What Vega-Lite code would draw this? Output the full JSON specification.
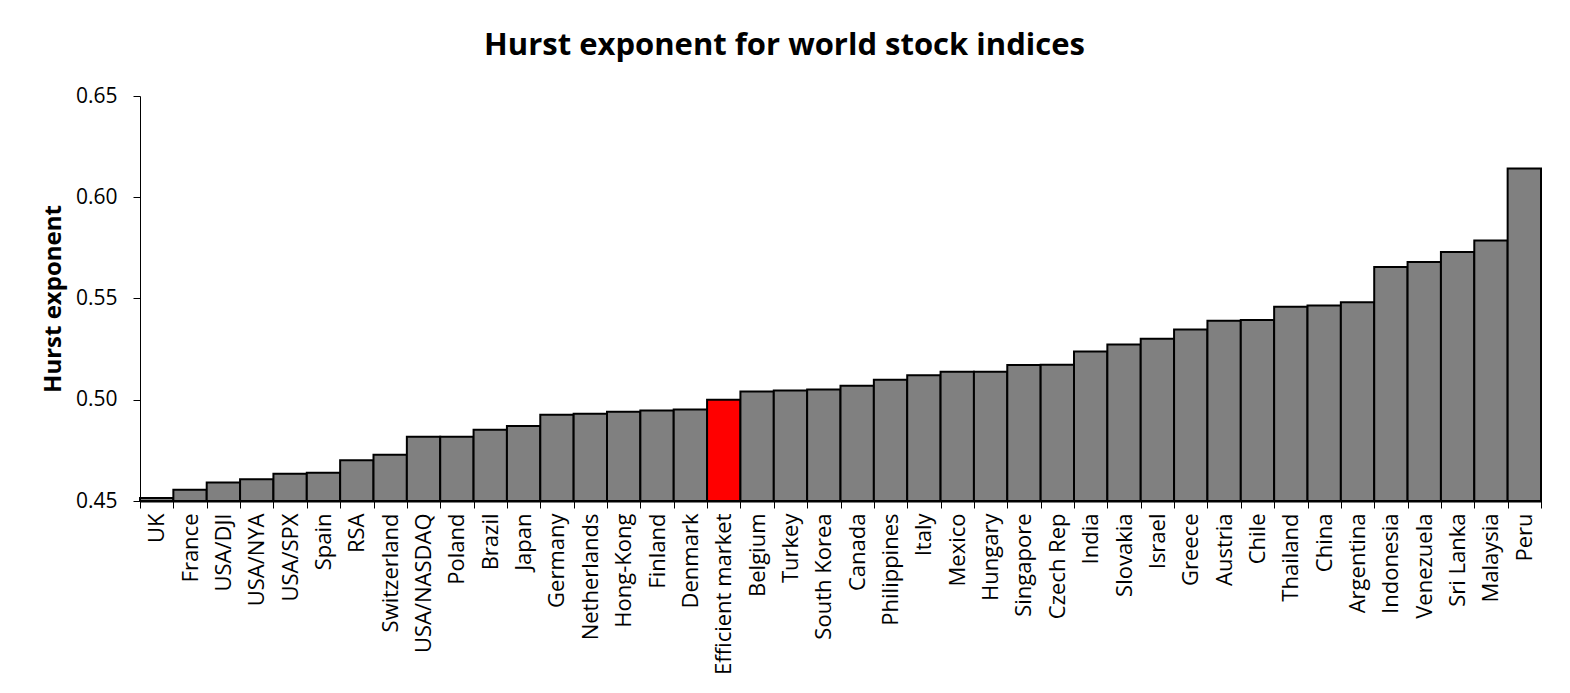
{
  "$schema": "https://vega.github.io/schema/vega-lite/v6.json",
  "autosize": "none",
  "width": 1401,
  "height": 405,
  "padding": {"left": 140, "top": 96, "right": 29, "bottom": 192},
  "background": "white",
  "title": {
    "text": "Hurst exponent for world stock indices",
    "font": "Open Sans",
    "fontSize": 31,
    "fontWeight": "bold",
    "color": "black",
    "anchor": "middle",
    "dx": -56,
    "offset": 23
  },
  "data": {
    "values": [
      {"index": "UK", "h": 0.4515, "type": "market"},
      {"index": "France", "h": 0.4556, "type": "market"},
      {"index": "USA/DJI", "h": 0.4591, "type": "market"},
      {"index": "USA/NYA", "h": 0.4607, "type": "market"},
      {"index": "USA/SPX", "h": 0.4635, "type": "market"},
      {"index": "Spain", "h": 0.4640, "type": "market"},
      {"index": "RSA", "h": 0.4701, "type": "market"},
      {"index": "Switzerland", "h": 0.4729, "type": "market"},
      {"index": "USA/NASDAQ", "h": 0.4817, "type": "market"},
      {"index": "Poland", "h": 0.4817, "type": "market"},
      {"index": "Brazil", "h": 0.4852, "type": "market"},
      {"index": "Japan", "h": 0.4870, "type": "market"},
      {"index": "Germany", "h": 0.4926, "type": "market"},
      {"index": "Netherlands", "h": 0.4931, "type": "market"},
      {"index": "Hong-Kong", "h": 0.4941, "type": "market"},
      {"index": "Finland", "h": 0.4947, "type": "market"},
      {"index": "Denmark", "h": 0.4952, "type": "market"},
      {"index": "Efficient market", "h": 0.5000, "type": "efficient"},
      {"index": "Belgium", "h": 0.5041, "type": "market"},
      {"index": "Turkey", "h": 0.5046, "type": "market"},
      {"index": "South Korea", "h": 0.5051, "type": "market"},
      {"index": "Canada", "h": 0.5069, "type": "market"},
      {"index": "Philippines", "h": 0.5099, "type": "market"},
      {"index": "Italy", "h": 0.5121, "type": "market"},
      {"index": "Mexico", "h": 0.5138, "type": "market"},
      {"index": "Hungary", "h": 0.5138, "type": "market"},
      {"index": "Singapore", "h": 0.5172, "type": "market"},
      {"index": "Czech Rep", "h": 0.5173, "type": "market"},
      {"index": "India", "h": 0.5238, "type": "market"},
      {"index": "Slovakia", "h": 0.5273, "type": "market"},
      {"index": "Israel", "h": 0.5301, "type": "market"},
      {"index": "Greece", "h": 0.5347, "type": "market"},
      {"index": "Austria", "h": 0.5390, "type": "market"},
      {"index": "Chile", "h": 0.5394, "type": "market"},
      {"index": "Thailand", "h": 0.5459, "type": "market"},
      {"index": "China", "h": 0.5465, "type": "market"},
      {"index": "Argentina", "h": 0.5481, "type": "market"},
      {"index": "Indonesia", "h": 0.5656, "type": "market"},
      {"index": "Venezuela", "h": 0.5680, "type": "market"},
      {"index": "Sri Lanka", "h": 0.5730, "type": "market"},
      {"index": "Malaysia", "h": 0.5786, "type": "market"},
      {"index": "Peru", "h": 0.6142, "type": "market"}
    ]
  },
  "mark": {"type": "bar", "stroke": "black", "strokeWidth": 2, "opacity": 1},
  "encoding": {
    "x": {
      "field": "index",
      "type": "nominal",
      "sort": null,
      "scale": {"paddingInner": 0, "paddingOuter": 0},
      "axis": {
        "title": null,
        "labelAngle": -90,
        "labelAlign": "right",
        "labelBaseline": "middle",
        "labelFont": "Open Sans",
        "labelFontSize": 22,
        "labelColor": "black",
        "labelPadding": 5,
        "tickBand": "extent",
        "tickSize": 7,
        "tickColor": "black",
        "domainColor": "black",
        "domainWidth": 2,
        "labelOverlap": false
      }
    },
    "y": {
      "field": "h",
      "type": "quantitative",
      "scale": {"domain": [0.45, 0.65], "zero": false, "nice": false},
      "axis": {
        "title": "Hurst exponent",
        "titleFont": "Open Sans",
        "titleFontSize": 24,
        "titleFontWeight": "bold",
        "titleColor": "black",
        "titlePadding": 10,
        "values": [0.45, 0.5, 0.55, 0.6, 0.65],
        "format": ".2f",
        "labelFont": "Open Sans",
        "labelFontSize": 21,
        "labelColor": "black",
        "labelPadding": 16,
        "tickSize": 7,
        "tickColor": "black",
        "domainColor": "black",
        "grid": false
      }
    },
    "y2": {"datum": 0.45},
    "color": {
      "field": "type",
      "type": "nominal",
      "scale": {"domain": ["market", "efficient"], "range": ["#808080", "#ff0000"]},
      "legend": null
    }
  },
  "config": {"view": {"stroke": null}}
}
